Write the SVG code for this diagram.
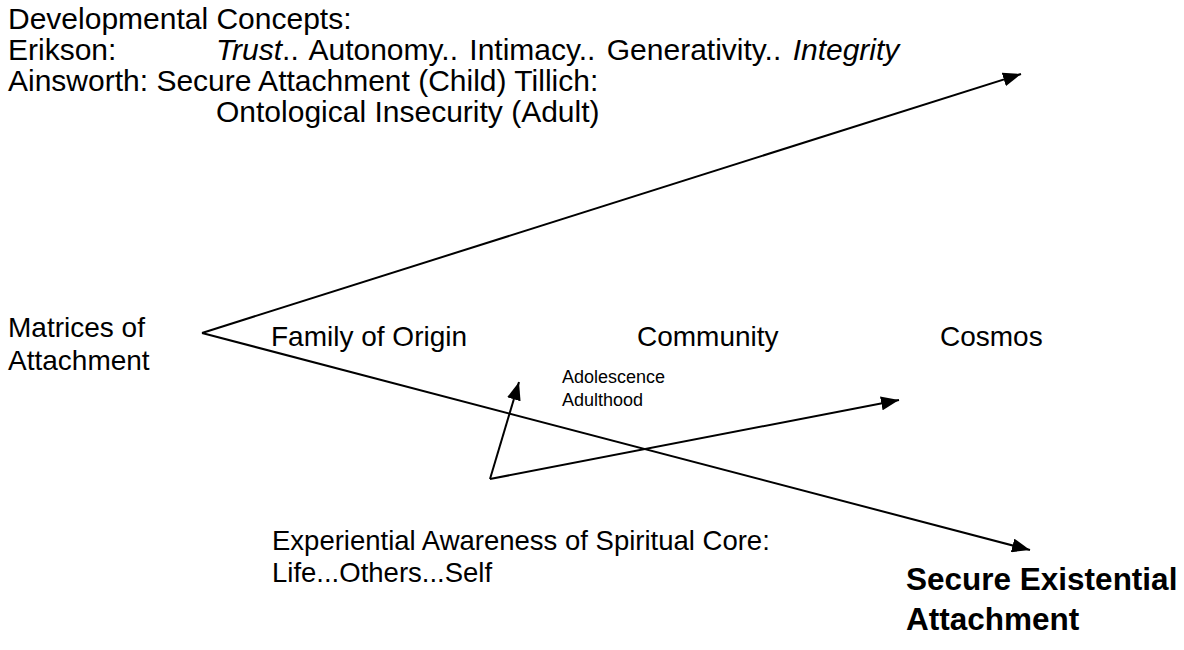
<svg xmlns="http://www.w3.org/2000/svg" width="1184" height="650" viewBox="0 0 1184 650">
<style>
text{font-family:"Liberation Sans",Arial,Helvetica,sans-serif;fill:#000}
.t{font-size:30px}
.m{font-size:28px}
.c{font-size:27.5px}
.s{font-size:18px}
.b{font-size:31.5px;font-weight:bold}
.i{font-style:italic}
.ln{stroke:#000;stroke-width:2;fill:none}
</style>
<defs>
<marker id="ah" markerUnits="userSpaceOnUse" markerWidth="20" markerHeight="14" refX="18" refY="7" orient="auto">
<path d="M0,0 L18,7 L0,14 Z" fill="#000"/>
</marker>
</defs>
<rect width="1184" height="650" fill="#fff"/>
<g id="concepts">
<text class="t" x="8" y="29">Developmental Concepts:</text>
<text class="t" x="8" y="60">Erikson:</text>
<text class="t" x="216" y="60" word-spacing="3"><tspan class="i">Trust</tspan>.. Autonomy.. Intimacy.. Generativity.. <tspan class="i">Integrity</tspan></text>
<text class="t" x="8" y="91">Ainsworth: Secure Attachment (Child) Tillich:</text>
<text class="t" x="216" y="122">Ontological Insecurity (Adult)</text>
</g>
<g id="matrices">
<text class="m" x="8" y="337">Matrices of</text>
<text class="m" x="8" y="370">Attachment</text>
</g>
<g id="family"><text class="m" x="271" y="346">Family of Origin</text></g>
<g id="community"><text class="m" x="637" y="346">Community</text></g>
<g id="cosmos"><text class="m" x="940" y="346">Cosmos</text></g>
<g id="stages">
<text class="s" x="562" y="383">Adolescence</text>
<text class="s" x="562" y="406">Adulthood</text>
</g>
<g id="core">
<text class="c" x="272" y="550">Experiential Awareness of Spiritual Core:</text>
<text class="c" x="272" y="582">Life...Others...Self</text>
</g>
<g id="secure">
<text class="b" x="906" y="590">Secure Existential</text>
<text class="b" x="906" y="630">Attachment</text>
</g>
<g id="connectors">
<line class="ln" x1="202" y1="333" x2="1021" y2="74" marker-end="url(#ah)"/>
<line class="ln" x1="202" y1="333" x2="1030" y2="550" marker-end="url(#ah)"/>
<line class="ln" x1="490" y1="479" x2="519" y2="382" marker-end="url(#ah)"/>
<line class="ln" x1="490" y1="479" x2="899" y2="400" marker-end="url(#ah)"/>
</g>
</svg>
